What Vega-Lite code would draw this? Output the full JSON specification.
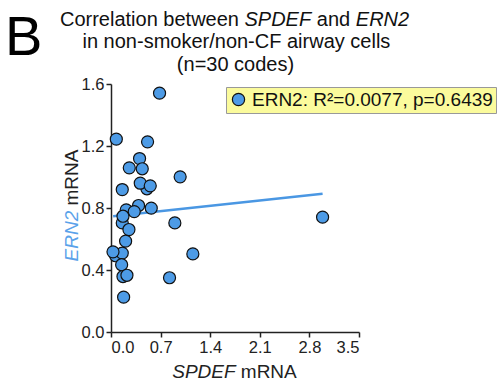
{
  "$schema": "https://vega.github.io/schema/vega-lite/v6.json",
  "autosize": {"type": "none"},
  "padding": {"left": 111, "top": 84, "right": 142, "bottom": 51},
  "width": 248,
  "height": 248,
  "background": "white",
  "config": {
    "font": "Liberation Sans",
    "view": {"stroke": null},
    "axis": {"grid": false, "domainColor": "#222", "domainWidth": 1.5, "tickColor": "#222", "tickWidth": 1.5, "tickSize": 5, "labelFontSize": 16.5, "labelColor": "#222", "labelPadding": 2},
    "text": {"font": "Liberation Sans", "color": "#111", "baseline": "alphabetic"}
  },
  "datasets": {
    "pts": [
      {"spdef": 0.685, "ern2": 1.541, "series": "ERN2: R²=0.0077, p=0.6439"},
      {"spdef": 0.075, "ern2": 1.244, "series": "ERN2: R²=0.0077, p=0.6439"},
      {"spdef": 0.516, "ern2": 1.227, "series": "ERN2: R²=0.0077, p=0.6439"},
      {"spdef": 0.403, "ern2": 1.119, "series": "ERN2: R²=0.0077, p=0.6439"},
      {"spdef": 0.258, "ern2": 1.059, "series": "ERN2: R²=0.0077, p=0.6439"},
      {"spdef": 0.441, "ern2": 1.053, "series": "ERN2: R²=0.0077, p=0.6439"},
      {"spdef": 0.976, "ern2": 1.001, "series": "ERN2: R²=0.0077, p=0.6439"},
      {"spdef": 0.507, "ern2": 0.924, "series": "ERN2: R²=0.0077, p=0.6439"},
      {"spdef": 0.413, "ern2": 0.960, "series": "ERN2: R²=0.0077, p=0.6439"},
      {"spdef": 0.554, "ern2": 0.943, "series": "ERN2: R²=0.0077, p=0.6439"},
      {"spdef": 0.159, "ern2": 0.919, "series": "ERN2: R²=0.0077, p=0.6439"},
      {"spdef": 0.389, "ern2": 0.816, "series": "ERN2: R²=0.0077, p=0.6439"},
      {"spdef": 0.568, "ern2": 0.799, "series": "ERN2: R²=0.0077, p=0.6439"},
      {"spdef": 0.215, "ern2": 0.788, "series": "ERN2: R²=0.0077, p=0.6439"},
      {"spdef": 0.328, "ern2": 0.777, "series": "ERN2: R²=0.0077, p=0.6439"},
      {"spdef": 0.159, "ern2": 0.704, "series": "ERN2: R²=0.0077, p=0.6439"},
      {"spdef": 0.169, "ern2": 0.747, "series": "ERN2: R²=0.0077, p=0.6439"},
      {"spdef": 0.901, "ern2": 0.704, "series": "ERN2: R²=0.0077, p=0.6439"},
      {"spdef": 0.253, "ern2": 0.661, "series": "ERN2: R²=0.0077, p=0.6439"},
      {"spdef": 0.206, "ern2": 0.586, "series": "ERN2: R²=0.0077, p=0.6439"},
      {"spdef": 0.065, "ern2": 0.492, "series": "ERN2: R²=0.0077, p=0.6439"},
      {"spdef": 0.159, "ern2": 0.509, "series": "ERN2: R²=0.0077, p=0.6439"},
      {"spdef": 0.028, "ern2": 0.517, "series": "ERN2: R²=0.0077, p=0.6439"},
      {"spdef": 1.155, "ern2": 0.504, "series": "ERN2: R²=0.0077, p=0.6439"},
      {"spdef": 0.150, "ern2": 0.434, "series": "ERN2: R²=0.0077, p=0.6439"},
      {"spdef": 0.169, "ern2": 0.358, "series": "ERN2: R²=0.0077, p=0.6439"},
      {"spdef": 0.225, "ern2": 0.366, "series": "ERN2: R²=0.0077, p=0.6439"},
      {"spdef": 0.826, "ern2": 0.350, "series": "ERN2: R²=0.0077, p=0.6439"},
      {"spdef": 0.178, "ern2": 0.225, "series": "ERN2: R²=0.0077, p=0.6439"},
      {"spdef": 2.986, "ern2": 0.741, "series": "ERN2: R²=0.0077, p=0.6439"}
    ],
    "fit": [
      {"spdef": 0.03, "ern2": 0.747},
      {"spdef": 2.986, "ern2": 0.892}
    ]
  },
  "layer": [
    {
      "data": {"name": "fit"},
      "mark": {"type": "line", "color": "#4a97e3", "strokeWidth": 2.5, "clip": false},
      "encoding": {
        "x": {"field": "spdef", "type": "quantitative", "scale": {"domain": [0, 3.5], "nice": false, "zero": false},
              "axis": {"values": [0, 0.7, 1.4, 2.1, 2.8, 3.5], "format": ".1f", "title": null}},
        "y": {"field": "ern2", "type": "quantitative", "scale": {"domain": [0, 1.6], "nice": false},
              "axis": {"values": [0, 0.4, 0.8, 1.2, 1.6], "format": ".1f", "title": null}}
      }
    },
    {
      "data": {"name": "pts"},
      "mark": {"type": "point", "shape": "circle", "filled": true, "size": 145, "stroke": "#111", "strokeWidth": 1.2, "opacity": 1, "clip": false},
      "encoding": {
        "x": {"field": "spdef", "type": "quantitative"},
        "y": {"field": "ern2", "type": "quantitative"},
        "color": {"field": "series", "type": "nominal", "scale": {"range": ["#4d9be6"]},
          "legend": {"title": null, "orient": "none", "legendX": 115, "legendY": 3, "fillColor": "#fbfb9c", "strokeColor": "#999", "padding": 3, "labelFontSize": 19, "labelColor": "#111", "symbolSize": 150, "symbolStrokeColor": "#111", "symbolStrokeWidth": 1.2, "symbolType": "circle", "labelLimit": 400}}
      }
    },
    {
      "data": {"values": [{}]},
      "mark": {"type": "text", "fontSize": 56, "color": "#000", "align": "left", "clip": false},
      "encoding": {"x": {"datum": -1.496}, "y": {"datum": 1.79}, "text": {"value": "B"}}
    },
    {
      "data": {"values": [{}]},
      "mark": {"type": "text", "fontSize": 20, "align": "left", "clip": false},
      "encoding": {"x": {"datum": -0.72}, "y": {"datum": 1.974}, "text": {"value": "Correlation between"}}
    },
    {
      "data": {"values": [{}]},
      "mark": {"type": "text", "fontSize": 20, "fontStyle": "italic", "align": "left", "clip": false},
      "encoding": {"x": {"datum": 1.884}, "y": {"datum": 1.974}, "text": {"value": "SPDEF"}}
    },
    {
      "data": {"values": [{}]},
      "mark": {"type": "text", "fontSize": 20, "align": "left", "clip": false},
      "encoding": {"x": {"datum": 2.904}, "y": {"datum": 1.974}, "text": {"value": "and"}}
    },
    {
      "data": {"values": [{}]},
      "mark": {"type": "text", "fontSize": 20, "fontStyle": "italic", "align": "left", "clip": false},
      "encoding": {"x": {"datum": 3.455}, "y": {"datum": 1.974}, "text": {"value": "ERN2"}}
    },
    {
      "data": {"values": [{}]},
      "mark": {"type": "text", "fontSize": 20, "align": "center", "clip": false},
      "encoding": {"x": {"datum": 1.77}, "y": {"datum": 1.83}, "text": {"value": "in non-smoker/non-CF airway cells"}}
    },
    {
      "data": {"values": [{}]},
      "mark": {"type": "text", "fontSize": 20, "align": "center", "clip": false},
      "encoding": {"x": {"datum": 1.757}, "y": {"datum": 1.682}, "text": {"value": "(n=30 codes)"}}
    },
    {
      "data": {"values": [{}]},
      "mark": {"type": "text", "fontSize": 19, "fontStyle": "italic", "color": "#222", "align": "right", "clip": false},
      "encoding": {"x": {"datum": 1.758}, "y": {"datum": -0.294}, "text": {"value": "SPDEF"}}
    },
    {
      "data": {"values": [{}]},
      "mark": {"type": "text", "fontSize": 19, "color": "#222", "align": "left", "clip": false},
      "encoding": {"x": {"datum": 1.832}, "y": {"datum": -0.294}, "text": {"value": "mRNA"}}
    },
    {
      "data": {"values": [{}]},
      "mark": {"type": "text", "fontSize": 19, "fontStyle": "italic", "color": "#5aa2ea", "align": "left", "angle": 270, "clip": false},
      "encoding": {"x": {"datum": -0.461}, "y": {"datum": 0.455}, "text": {"value": "ERN2"}}
    },
    {
      "data": {"values": [{}]},
      "mark": {"type": "text", "fontSize": 19, "color": "#222", "align": "left", "angle": 270, "clip": false},
      "encoding": {"x": {"datum": -0.461}, "y": {"datum": 0.816}, "text": {"value": "mRNA"}}
    }
  ]
}
